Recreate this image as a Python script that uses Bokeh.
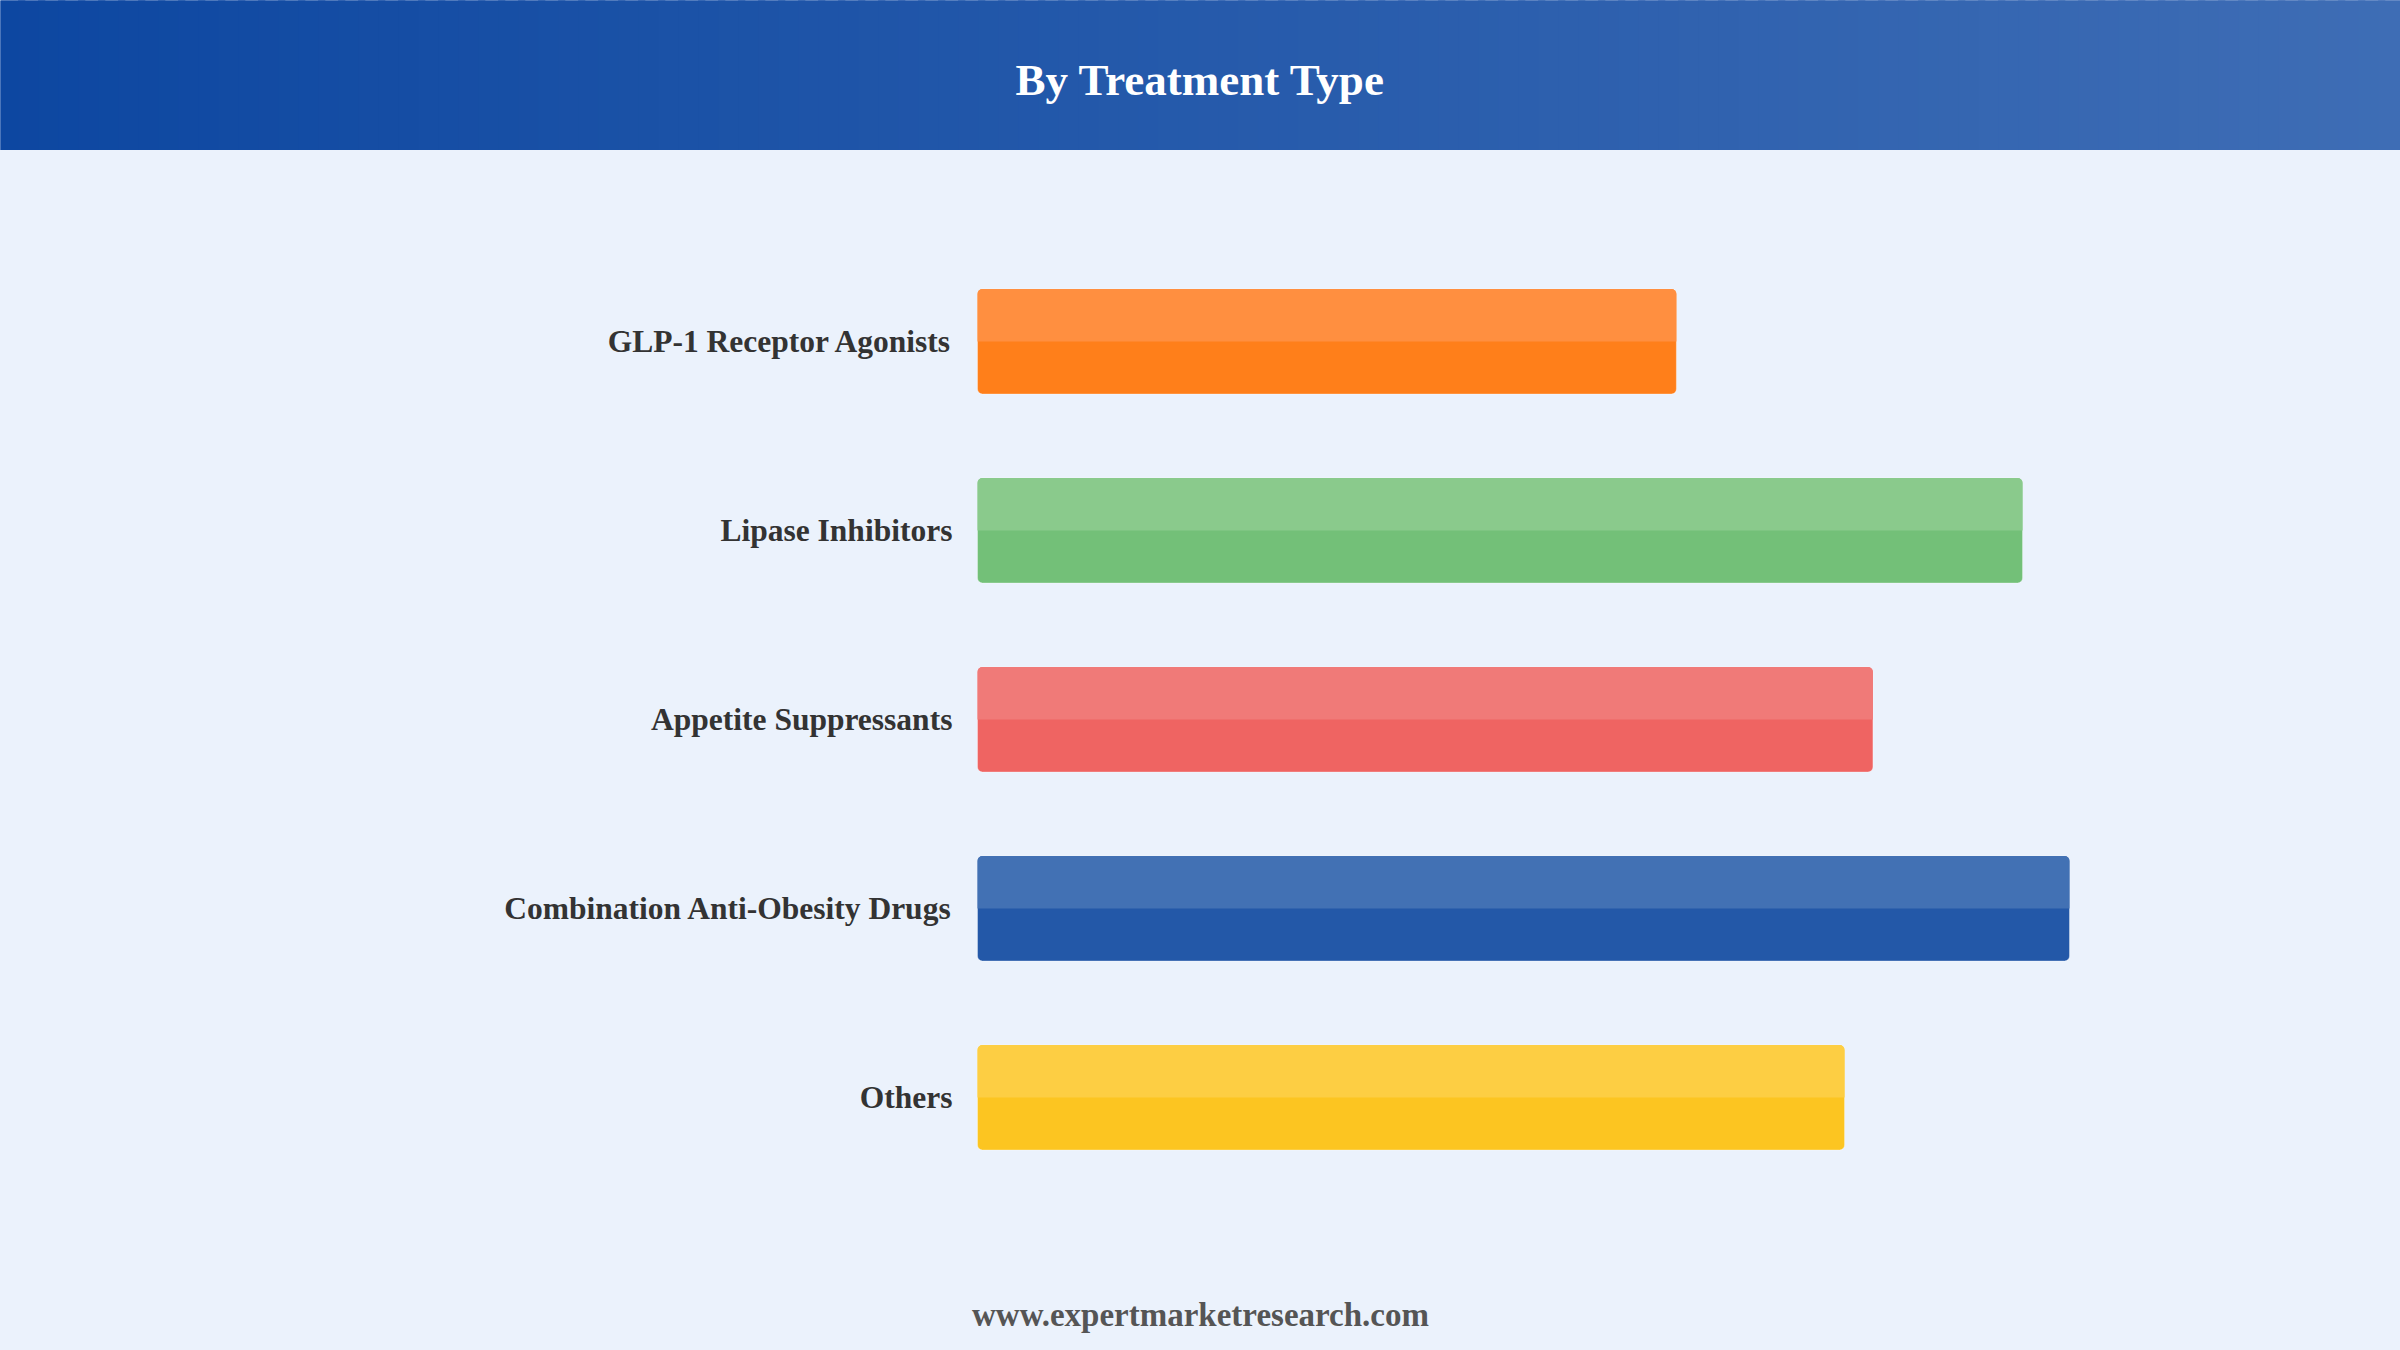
from bokeh.plotting import figure
from bokeh.layouts import column
from bokeh.models import ColumnDataSource, Range1d, FactorRange, Label
from bokeh.transform import dodge
from bokeh.embed import file_html
from bokeh.resources import INLINE

# ---- data ----
categories = ["GLP-1 Receptor Agonists", "Lipase Inhibitors", "Appetite Suppressants",
              "Combination Anti-Obesity Drugs", "Others"]
values = [64.0, 95.7, 82.0, 100.0, 79.4]
colors = ["#FF7F1A", "#73C078", "#EF6462", "#2358A8", "#FCC521"]
highlight_colors = ["#FF8F40", "#8ACA8C", "#F07A78", "#4271B4", "#FDCE43"]
title_text = "By Treatment Type"
footer_text = "www.expertmarketresearch.com"

W = 2400
BG = "#EBF2FC"
SERIF = "Liberation Serif"

# ---- header with gradient ----
c0 = (13, 71, 161)
c1 = (62, 109, 181)
header = figure(width=W, height=150, x_range=Range1d(0, 1), y_range=Range1d(0, 1),
                toolbar_location=None, output_backend="svg", min_border=0,
                background_fill_color="#2A5CAB", border_fill_color="#2A5CAB")
header.axis.visible = False
header.grid.visible = False
header.outline_line_color = None
N = 120
lefts, rights, cols = [], [], []
for i in range(N):
    t = (i + 0.5) / N
    rgb = tuple(int(round(a + (b - a) * t)) for a, b in zip(c0, c1))
    lefts.append(i / N - 0.001)
    rights.append((i + 1) / N + 0.002)
    cols.append("#%02x%02x%02x" % rgb)
header.quad(left=lefts, right=rights, bottom=-0.1, top=1.1, fill_color=cols, line_color=None)
header.add_layout(Label(x=0.5, y=0.47, text=title_text, text_align="center",
                        text_baseline="middle", text_font=SERIF, text_font_style="bold",
                        text_font_size="45px", text_color="white"))

# ---- main bars ----
px_per_unit = 10.92
bar_left_px = 977
x_start = -bar_left_px / px_per_unit
x_end = (W - bar_left_px) / px_per_unit

cats_rev = list(reversed(categories))
main = figure(width=W, height=1138, y_range=FactorRange(*cats_rev, range_padding=0.5106,
                                                         range_padding_units="absolute"),
              x_range=Range1d(x_start, x_end), toolbar_location=None,
              output_backend="svg", min_border=0, background_fill_color=BG,
              border_fill_color=BG)
main.axis.visible = False
main.grid.visible = False
main.outline_line_color = None

src = ColumnDataSource(dict(cat=categories, val=values, color=colors, hl=highlight_colors))
main.hbar(y="cat", left=0, right="val", height=0.556, source=src, fill_color="color",
          line_color="white", line_alpha=0.35, line_width=1, border_radius=5)
main.hbar(y=dodge("cat", 0.139, range=main.y_range), left=0, right="val", height=0.278,
          source=src, fill_color="hl", line_color=None, border_radius=[5, 5, 0, 0])
main.text(x=-2.3, y="cat", text="cat", source=src, text_align="right",
          text_baseline="middle", text_font=SERIF, text_font_style="bold",
          text_font_size="31.5px", text_color="#333333")

# ---- footer ----
footer = figure(width=W, height=62, x_range=Range1d(0, 1), y_range=Range1d(0, 62),
                toolbar_location=None, output_backend="svg", min_border=0,
                background_fill_color=BG, border_fill_color=BG)
footer.axis.visible = False
footer.grid.visible = False
footer.outline_line_color = None
footer.add_layout(Label(x=0.5, y=36, text=footer_text, text_align="center",
                        text_baseline="alphabetic", text_font=SERIF, text_font_style="bold",
                        text_font_size="33px", text_color="#555555"))

layout = column(header, main, footer, spacing=0)
html = file_html(layout, INLINE, title="By Treatment Type")
html = html.replace("<head>", "<head><style>html,body{margin:0;padding:0;background:%s;}</style>" % BG, 1)
open("out.html", "w").write(html)
